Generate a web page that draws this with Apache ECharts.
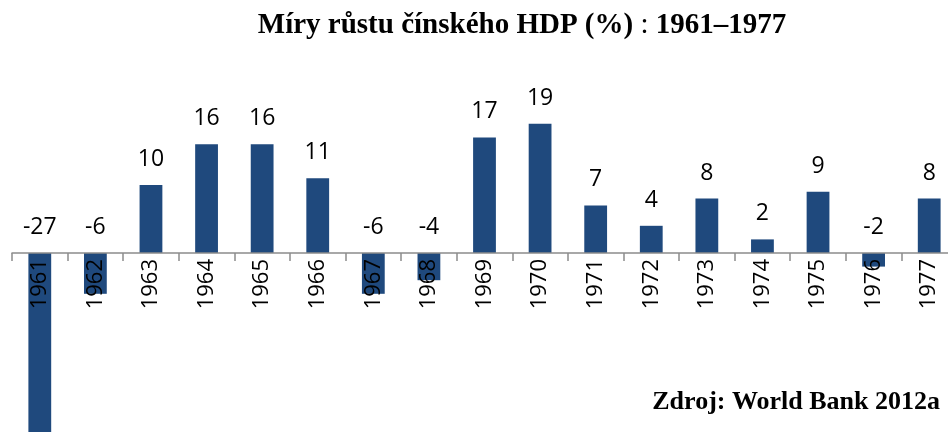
<!DOCTYPE html>
<html lang="cs">
<head>
    <meta charset="UTF-8">
    <title>Míry růstu čínského HDP</title>
    <style>
        * { margin: 0; padding: 0; }
        body { background: #fff; }
        #chart-container { width: 948px; height: 432px; }
    </style>
</head>
<body>
    <div id="chart-container"></div>
    <script src="https://cdn.jsdelivr.net/npm/echarts@6/dist/echarts.min.js"></script>
    <script>
        // data
        var years = ['1961', '1962', '1963', '1964', '1965', '1966', '1967', '1968', '1969',
                     '1970', '1971', '1972', '1973', '1974', '1975', '1976', '1977'];
        var growth = [-27, -6, 10, 16, 16, 11, -6, -4, 17, 19, 7, 4, 8, 2, 9, -2, 8];

        var titleText = 'Míry růstu čínského HDP (%)';
        var titleYears = '1961–1977';
        var sourceText = 'Zdroj: World Bank 2012a';

        var dom = document.getElementById('chart-container');
        var myChart = echarts.init(dom, null, { renderer: 'canvas' });

        var option = {
            animation: false,
            backgroundColor: '#ffffff',
            title: [
                {
                    text: '{b|' + titleText + '}{n| : }{b|' + titleYears + '}',
                    left: 517,
                    top: 6,
                    textAlign: 'center',
                    textStyle: {
                        rich: {
                            b: { fontFamily: 'Liberation Serif', fontWeight: 'bold', fontSize: 29, color: '#000' },
                            n: { fontFamily: 'Liberation Serif', fontWeight: 'normal', fontSize: 29, color: '#000' }
                        }
                    }
                },
                {
                    text: sourceText,
                    right: 3,
                    top: 384,
                    textStyle: {
                        fontFamily: 'Liberation Serif',
                        fontWeight: 'bold',
                        fontSize: 26,
                        color: '#000'
                    }
                }
            ],
            // x axis sits on the zero line; negative bars hang below the grid
            grid: {
                left: 12,
                right: -9,
                top: 117,
                bottom: 179,
                containLabel: false,
                outerBoundsMode: 'none'
            },
            xAxis: {
                type: 'category',
                data: years,
                axisLine: { lineStyle: { color: '#8c8c8c', width: 1.5 } },
                axisTick: { show: true, length: 8, lineStyle: { color: '#8c8c8c', width: 1.5 } },
                axisLabel: {
                    rotate: 90,
                    margin: 6,
                    interval: 0,
                    fontFamily: 'Open Sans',
                    fontSize: 22,
                    color: '#000'
                },
                z: 3
            },
            yAxis: {
                type: 'value',
                min: 0,
                max: 20,
                show: false,
                splitLine: { show: false }
            },
            series: [{
                type: 'bar',
                data: growth,
                clip: false,
                barWidth: '41%',
                itemStyle: { color: '#1F497D' },
                z: 2,
                label: {
                    show: true,
                    position: 'top',
                    distance: 14,
                    fontFamily: 'Open Sans',
                    fontSize: 23,
                    color: '#000'
                }
            }]
        };

        myChart.setOption(option);
        window.addEventListener('resize', myChart.resize);
    </script>
</body>
</html>
